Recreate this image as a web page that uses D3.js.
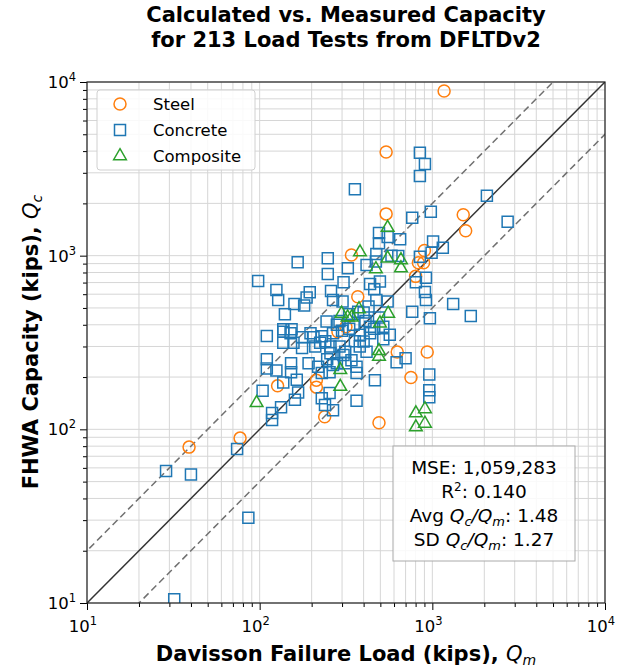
<!DOCTYPE html>
<html lang="en">
<head>
    <meta charset="UTF-8">
    <title>Calculated vs. Measured Capacity</title>
    <style>
        body { margin: 0; background: #fff; }
        svg { font-family: "DejaVu Sans", sans-serif; }
        .grid line { stroke: #d6d6d6; stroke-width: 1; }
        .axis path { display: none; }
        .axis line { stroke: #000; }
    </style>
    <script src="https://d3js.org/d3.v7.min.js"></script>
</head>
<body>
<div id="chart"></div>
<script>
    // values (kips): [measured Qm, calculated Qc]
    const steel = [
        [1170, 8870], [540, 3950], [540, 1740], [340, 1010], [370, 580], [1510, 1720],
        [1560, 1390], [900, 1070], [830, 910], [890, 910], [800, 760], [316, 390],
        [284, 365], [127, 178], [213, 192], [213, 175], [238, 118], [77, 89], [39, 79],
        [626, 279], [934, 279], [752, 199], [491, 109]
    ];

    const concrete = [
        [356, 2410], [847, 3920], [906, 3370], [847, 2875], [2070, 2210], [2730, 1570],
        [765, 1655], [980, 1790], [651, 1242], [491, 1350], [491, 1180], [551, 1282],
        [1010, 1205], [1150, 1111], [990, 1040], [474, 1023], [635, 996], [847, 986],
        [324, 846], [416, 884], [471, 925], [918, 747], [803, 703], [436, 687], [497, 709],
        [306, 703], [461, 640], [906, 618], [918, 556], [1320, 527], [1670, 450], [968, 436],
        [765, 476], [551, 544], [427, 509], [302, 544], [436, 390], [567, 350], [381, 350],
        [166, 917], [248, 967], [248, 785], [98, 715], [125, 635], [128, 556], [195, 615],
        [187, 574], [259, 626], [159, 527], [181, 517], [140, 460], [266, 556], [244, 418],
        [153, 377], [137, 377], [290, 420],
        [110, 345], [137, 365], [151, 357], [197, 357], [229, 343], [266, 357], [137, 315],
        [157, 315], [176, 339], [176, 294], [205, 339], [224, 315], [240, 321], [257, 300],
        [257, 274], [290, 300], [306, 268], [110, 253], [110, 224], [125, 218], [152, 240],
        [152, 213], [137, 186], [164, 193], [167, 163], [192, 240], [218, 229], [229, 211],
        [246, 253], [254, 213], [266, 235], [229, 151], [254, 162], [266, 129], [239, 138],
        [160, 148], [133, 134], [118, 124], [118, 113], [104, 167], [74, 77], [28.7, 57.6],
        [40, 55], [86, 31], [32, 10.5],
        [621, 243], [700, 257], [465, 192], [364, 146], [960, 207], [960, 168], [960, 153],
        [364, 229], [364, 211], [313, 240], [416, 280], [436, 357], [356, 321], [313, 280],
        [474, 556], [372, 476], [400, 470], [491, 440], [330, 460], [350, 400], [410, 420],
        [460, 380], [520, 390], [330, 380], [380, 300], [400, 320], [300, 370], [280, 400],
        [210, 300], [340, 250], [280, 240], [580, 1000], [520, 330]
    ];

    const composite = [
        [551, 1450], [381, 1047], [551, 966], [658, 944], [658, 848], [471, 838],
        [376, 493], [555, 464], [341, 442], [323, 442], [298, 464], [497, 408],
        [491, 283], [491, 262], [803, 124], [906, 131], [803, 103], [906, 108],
        [293, 220], [293, 176], [96, 142]
    ];

    const series = [
        { name: "Steel", data: steel, color: "#ff7f0e", shape: "circle" },
        { name: "Concrete", data: concrete, color: "#1f77b4", shape: "square" },
        { name: "Composite", data: composite, color: "#2ca02c", shape: "triangle" }
    ];

    const statLines = [
        ["MSE: 1,059,283"],
        ["R", "2", ": 0.140"],
        ["Avg ", "Q", "c", "/", "Q", "m", ": 1.48"],
        ["SD ", "Q", "c", "/", "Q", "m", ": 1.27"]
    ];

    const majorTicks = [10, 100, 1000, 10000];
    const minorTicks = [];
    [10, 100, 1000].forEach(d => { for (let k = 2; k <= 9; k++) minorTicks.push(d * k); });

    var margin = { top: 82, right: 14, bottom: 65, left: 87 },
        width = 619 - margin.left - margin.right,
        height = 668 - margin.top - margin.bottom;

    var x = d3.scaleLog().domain([10, 1e4]).range([0, width]);
    var y = d3.scaleLog().domain([10, 1e4]).range([height, 0]);

    const root = d3.select("#chart").append("svg")
        .attr("width", 619).attr("height", 668);

    const svg = root.append("g")
        .attr("transform", "translate(" + margin.left + "," + margin.top + ")");

    // grid, both major and minor
    const grid = svg.append("g").attr("class", "grid");
    const allTicks = majorTicks.concat(minorTicks);
    grid.selectAll(".gx").data(allTicks).join("line")
        .attr("x1", d => x(d)).attr("x2", d => x(d))
        .attr("y1", 0).attr("y2", height);
    grid.selectAll(".gy").data(allTicks).join("line")
        .attr("class", "gy")
        .attr("y1", d => y(d)).attr("y2", d => y(d))
        .attr("x1", 0).attr("x2", width);

    svg.append("defs").append("clipPath").attr("id", "clip")
        .append("rect").attr("width", width).attr("height", height);

    // 1:1 line and factor-of-2 bounds
    const lines = svg.append("g").attr("clip-path", "url(#clip)");
    const lineGen = d3.line().x(d => x(d[0])).y(d => y(d[1]));
    const ends = [5, 2e4];
    lines.append("path")
        .attr("d", lineGen(ends.map(v => [v, v * 2])))
        .attr("fill", "none").attr("stroke", "#707070").attr("stroke-width", 1.5)
        .attr("stroke-dasharray", "7,4");
    lines.append("path")
        .attr("d", lineGen(ends.map(v => [v, v / 2])))
        .attr("fill", "none").attr("stroke", "#707070").attr("stroke-width", 1.5)
        .attr("stroke-dasharray", "7,4");
    lines.append("path")
        .attr("d", lineGen(ends.map(v => [v, v])))
        .attr("fill", "none").attr("stroke", "#333").attr("stroke-width", 1.5);

    function symbolFor(shape) {
        if (shape === "circle") return d3.symbol(d3.symbolCircle, Math.PI * 6 * 6);
        if (shape === "square") return d3.symbol(d3.symbolSquare, 11 * 11);
        return d3.symbol(d3.symbolTriangle, 70);
    }

    const pts = svg.append("g").attr("clip-path", "url(#clip)");
    series.forEach(s => {
        pts.append("g").selectAll("path").data(s.data).join("path")
            .attr("transform", d => "translate(" + x(d[0]) + "," + y(d[1]) + ")")
            .attr("d", symbolFor(s.shape)())
            .attr("fill", "none")
            .attr("stroke", s.color)
            .attr("stroke-width", 1.5);
    });

    // axes
    svg.append("g").attr("class", "axis")
        .attr("transform", "translate(0," + height + ")")
        .call(d3.axisBottom(x).tickValues(minorTicks).tickSize(4).tickFormat(""));
    svg.append("g").attr("class", "axis")
        .attr("transform", "translate(0," + height + ")")
        .call(d3.axisBottom(x).tickValues(majorTicks).tickSize(7).tickFormat(""));
    svg.append("g").attr("class", "axis")
        .call(d3.axisLeft(y).tickValues(minorTicks).tickSize(4).tickFormat(""));
    svg.append("g").attr("class", "axis")
        .call(d3.axisLeft(y).tickValues(majorTicks).tickSize(7).tickFormat(""));

    function powLabel(sel, d) {
        const e = Math.round(Math.log10(d));
        sel.append("tspan").text("10");
        sel.append("tspan").attr("font-size", 11.5).attr("dy", -7).text(e);
    }

    majorTicks.forEach(d => {
        const t = svg.append("text")
            .attr("x", x(d) - 4).attr("y", height + 29)
            .attr("text-anchor", "middle").attr("font-size", 16.5);
        powLabel(t, d);
        const u = svg.append("text")
            .attr("x", -11).attr("y", y(d) + 6)
            .attr("text-anchor", "end").attr("font-size", 16.5);
        powLabel(u, d);
    });

    // frame
    svg.append("rect").attr("width", width).attr("height", height)
        .attr("fill", "none").attr("stroke", "#222").attr("stroke-width", 1.2);

    // legend
    const leg = svg.append("g").attr("transform", "translate(10,8)");
    leg.append("rect").attr("width", 158).attr("height", 80).attr("rx", 3)
        .attr("fill", "#fff").attr("fill-opacity", 0.85)
        .attr("stroke", "#d0d0d0");
    series.forEach((s, i) => {
        const row = leg.append("g").attr("transform", "translate(0," + (14 + i * 26) + ")");
        row.append("path")
            .attr("transform", "translate(23,0)")
            .attr("d", symbolFor(s.shape)())
            .attr("fill", "none").attr("stroke", s.color).attr("stroke-width", 1.5);
        row.append("text").attr("x", 56).attr("y", 6)
            .attr("font-size", 16.5).text(s.name);
    });

    // stats box
    const box = svg.append("g").attr("transform", "translate(306,364)");
    box.append("rect").attr("width", 182).attr("height", 115)
        .attr("fill", "#fff").attr("fill-opacity", 0.85)
        .attr("stroke", "#aaa");
    statLines.forEach((parts, i) => {
        const t = box.append("text")
            .attr("x", 91).attr("y", 28 + i * 24)
            .attr("text-anchor", "middle").attr("font-size", 18.5);
        if (parts.length === 1) { t.text(parts[0]); return; }
        if (parts.length === 3) {
            t.append("tspan").text(parts[0]);
            t.append("tspan").attr("font-size", 12).attr("dy", -7).text(parts[1]);
            t.append("tspan").attr("dy", 7).text(parts[2]);
            return;
        }
        t.append("tspan").text(parts[0]);
        t.append("tspan").attr("font-style", "italic").text(parts[1]);
        t.append("tspan").attr("font-style", "italic").attr("font-size", 13).attr("dy", 4).text(parts[2]);
        t.append("tspan").attr("font-style", "italic").attr("dy", -4).text(parts[3]);
        t.append("tspan").attr("font-style", "italic").text(parts[4]);
        t.append("tspan").attr("font-style", "italic").attr("font-size", 13).attr("dy", 4).text(parts[5]);
        t.append("tspan").attr("dy", -4).text(parts[6]);
    });

    // title and axis labels
    const title = root.append("text").attr("text-anchor", "middle")
        .attr("font-weight", "bold").attr("font-size", 21);
    title.append("tspan").attr("x", 346).attr("y", 22).text("Calculated vs. Measured Capacity");
    title.append("tspan").attr("x", 346).attr("y", 47).text("for 213 Load Tests from DFLTDv2");

    const xl = root.append("text").attr("x", 346).attr("y", 661)
        .attr("text-anchor", "middle").attr("font-size", 21);
    xl.append("tspan").attr("font-weight", "bold").text("Davisson Failure Load (kips), ");
    xl.append("tspan").attr("font-style", "italic").text("Q");
    xl.append("tspan").attr("font-style", "italic").attr("font-size", 14).attr("dy", 4).text("m");

    const yl = root.append("text")
        .attr("transform", "translate(38,342) rotate(-90)")
        .attr("text-anchor", "middle").attr("font-size", 21);
    yl.append("tspan").attr("font-weight", "bold").text("FHWA Capacity (kips), ");
    yl.append("tspan").attr("font-style", "italic").text("Q");
    yl.append("tspan").attr("font-style", "italic").attr("font-size", 14).attr("dy", 4).text("c");
</script>
</body>
</html>
